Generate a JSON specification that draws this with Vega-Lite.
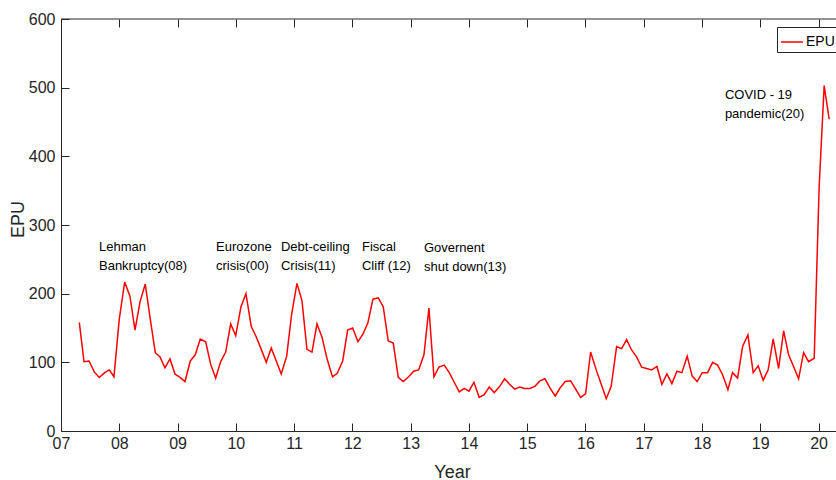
{
  "$schema": "https://vega.github.io/schema/vega-lite/v6.json",
  "width": 775,
  "height": 412,
  "autosize": {"type": "none"},
  "padding": {"left": 61, "top": 19, "right": 0, "bottom": 49},
  "background": "white",
  "config": {
    "view": {"stroke": null},
    "font": "Liberation Sans",
    "axis": {"grid": false, "domainColor": "#262626", "tickColor": "#262626", "labelColor": "#262626", "titleColor": "#262626", "titleFontWeight": "normal", "labelFlush": false, "labelOverlap": false}
  },
  "datasets": {
    "epu": [
      {"t":7.314,"epu":158},{"t":7.395,"epu":101},{"t":7.480,"epu":102},{"t":7.571,"epu":86},{"t":7.657,"epu":78},{"t":7.750,"epu":85},{"t":7.829,"epu":89},{"t":7.909,"epu":79},
      {"t":8.000,"epu":163},{"t":8.093,"epu":217},{"t":8.184,"epu":196},{"t":8.270,"epu":147},{"t":8.356,"epu":188},{"t":8.446,"epu":214},{"t":8.532,"epu":163},{"t":8.618,"epu":114},{"t":8.699,"epu":108},{"t":8.784,"epu":92},{"t":8.870,"epu":105},{"t":8.956,"epu":83},
      {"t":9.042,"epu":78},{"t":9.128,"epu":72},{"t":9.219,"epu":102},{"t":9.304,"epu":111},{"t":9.390,"epu":134},{"t":9.483,"epu":130},{"t":9.569,"epu":97},{"t":9.654,"epu":77},{"t":9.740,"epu":101},{"t":9.826,"epu":115},{"t":9.912,"epu":156},{"t":9.998,"epu":139},
      {"t":10.089,"epu":181},{"t":10.174,"epu":200},{"t":10.265,"epu":152},{"t":10.346,"epu":138},{"t":10.432,"epu":120},{"t":10.523,"epu":100},{"t":10.608,"epu":121},{"t":10.694,"epu":102},{"t":10.780,"epu":83},{"t":10.873,"epu":109},{"t":10.958,"epu":170},
      {"t":11.049,"epu":215},{"t":11.135,"epu":190},{"t":11.221,"epu":119},{"t":11.307,"epu":115},{"t":11.393,"epu":156},{"t":11.478,"epu":137},{"t":11.569,"epu":104},{"t":11.659,"epu":79},{"t":11.741,"epu":84},{"t":11.834,"epu":102},{"t":11.919,"epu":147},
      {"t":12.005,"epu":150},{"t":12.096,"epu":130},{"t":12.182,"epu":141},{"t":12.268,"epu":158},{"t":12.353,"epu":192},{"t":12.444,"epu":194},{"t":12.530,"epu":181},{"t":12.616,"epu":131},{"t":12.702,"epu":128},{"t":12.788,"epu":78},{"t":12.873,"epu":72},{"t":12.966,"epu":79},
      {"t":13.052,"epu":87},{"t":13.138,"epu":89},{"t":13.229,"epu":111},{"t":13.314,"epu":179},{"t":13.400,"epu":79},{"t":13.486,"epu":93},{"t":13.577,"epu":96},{"t":13.663,"epu":85},{"t":13.748,"epu":71},{"t":13.834,"epu":57},{"t":13.920,"epu":62},
      {"t":14.001,"epu":58},{"t":14.086,"epu":71},{"t":14.177,"epu":49},{"t":14.263,"epu":53},{"t":14.349,"epu":64},{"t":14.435,"epu":56},{"t":14.521,"epu":64},{"t":14.613,"epu":76},{"t":14.699,"epu":68},{"t":14.785,"epu":61},{"t":14.871,"epu":64},{"t":14.956,"epu":62},
      {"t":15.047,"epu":62},{"t":15.133,"epu":65},{"t":15.219,"epu":73},{"t":15.305,"epu":76},{"t":15.396,"epu":62},{"t":15.482,"epu":51},{"t":15.567,"epu":63},{"t":15.653,"epu":72},{"t":15.746,"epu":73},{"t":15.832,"epu":61},{"t":15.917,"epu":49},
      {"t":16.003,"epu":54},{"t":16.089,"epu":115},{"t":16.185,"epu":89},{"t":16.271,"epu":68},{"t":16.357,"epu":47},{"t":16.442,"epu":65},{"t":16.535,"epu":123},{"t":16.621,"epu":120},{"t":16.707,"epu":133},{"t":16.792,"epu":118},{"t":16.878,"epu":108},{"t":16.964,"epu":93},
      {"t":17.050,"epu":91},{"t":17.136,"epu":89},{"t":17.227,"epu":94},{"t":17.312,"epu":68},{"t":17.398,"epu":83},{"t":17.484,"epu":69},{"t":17.570,"epu":87},{"t":17.655,"epu":85},{"t":17.746,"epu":109},{"t":17.832,"epu":80},{"t":17.918,"epu":72},
      {"t":18.004,"epu":85},{"t":18.096,"epu":85},{"t":18.182,"epu":100},{"t":18.268,"epu":96},{"t":18.354,"epu":82},{"t":18.445,"epu":60},{"t":18.525,"epu":85},{"t":18.611,"epu":77},{"t":18.697,"epu":123},{"t":18.788,"epu":140},{"t":18.879,"epu":85},{"t":18.965,"epu":95},
      {"t":19.050,"epu":74},{"t":19.136,"epu":89},{"t":19.222,"epu":134},{"t":19.315,"epu":91},{"t":19.401,"epu":146},{"t":19.486,"epu":111},{"t":19.572,"epu":94},{"t":19.658,"epu":76},{"t":19.744,"epu":114},{"t":19.829,"epu":101},{"t":19.926,"epu":106},
      {"t":20.011,"epu":356},{"t":20.097,"epu":503},{"t":20.183,"epu":454}
    ],
    "notes": [
      {"t":7.652,"v":262,"label":"Lehman\nBankruptcy(08)"},
      {"t":9.660,"v":262,"label":"Eurozone\ncrisis(00)"},
      {"t":10.775,"v":262,"label":"Debt-ceiling\nCrisis(11)"},
      {"t":12.165,"v":262,"label":"Fiscal\nCliff (12)"},
      {"t":13.229,"v":260,"label":"Governent\nshut down(13)"},
      {"t":18.393,"v":483,"label":"COVID - 19\npandemic(20)"}
    ]
  },
  "layer": [
    {
      "data": {"name": "epu"},
      "mark": {"type": "line", "strokeWidth": 1.5, "clip": true},
      "encoding": {
        "x": {"field": "t", "type": "quantitative", "scale": {"domain": [7, 20.3], "nice": false, "zero": false},
              "axis": {"orient": "bottom", "values": [7,8,9,10,11,12,13,14,15,16,17,18,19,20], "labelExpr": "datum.value < 10 ? '0' + datum.value : '' + datum.value", "ticks": false, "tickSize": 0, "labelPadding": 4, "labelFontSize": 16, "title": "Year", "titleFontSize": 18, "titleX": 391, "titleY": 46, "titleBaseline": "alphabetic", "titleAnchor": null}},
        "y": {"field": "epu", "type": "quantitative", "scale": {"domain": [0, 600], "nice": false},
              "axis": {"orient": "left", "values": [0,100,200,300,400,500,600], "ticks": false, "tickSize": 0, "labelPadding": 6, "labelFontSize": 16, "title": "EPU", "titleFontSize": 18, "titleAngle": 270, "titleX": -43, "titleY": 200, "titleBaseline": "middle", "titleAlign": "center"}},
        "color": {"datum": "EPU", "scale": {"range": ["#ff0000"]},
                  "legend": {"title": null, "orient": "none", "legendX": 716, "legendY": 8, "symbolType": "stroke", "symbolSize": 480, "symbolStrokeWidth": 1.5, "labelFontSize": 14, "labelColor": "black", "strokeColor": "#262626", "fillColor": "white", "padding": 3, "labelOffset": 2}}
      }
    },
    {
      "data": {"name": "notes"},
      "mark": {"type": "text", "align": "left", "baseline": "alphabetic", "lineBreak": "\n", "font": "Liberation Sans", "fontSize": 13, "lineHeight": 19, "color": "black"},
      "encoding": {
        "x": {"field": "t", "type": "quantitative",
              "axis": {"orient": "bottom", "offset": -8, "values": [7,8,9,10,11,12,13,14,15,16,17,18,19,20], "domain": false, "labels": false, "ticks": true, "tickSize": 8, "title": null}},
        "y": {"field": "v", "type": "quantitative",
              "axis": {"orient": "left", "offset": -8, "values": [0,100,200,300,400,500,600], "domain": false, "labels": false, "ticks": true, "tickSize": 8, "title": null}},
        "text": {"field": "label"}
      }
    },
    {
      "data": {"values": [{}]},
      "mark": {"type": "rule", "color": "#262626", "strokeWidth": 1},
      "encoding": {
        "x": {"datum": 7, "type": "quantitative",
              "axis": {"orient": "top", "offset": -8, "values": [7,8,9,10,11,12,13,14,15,16,17,18,19,20], "domain": false, "labels": false, "ticks": true, "tickSize": 8, "title": null}},
        "x2": {"datum": 20.3},
        "y": {"datum": 600, "type": "quantitative", "axis": null}
      }
    }
  ],
  "resolve": {"axis": {"x": "independent", "y": "independent"}}
}
